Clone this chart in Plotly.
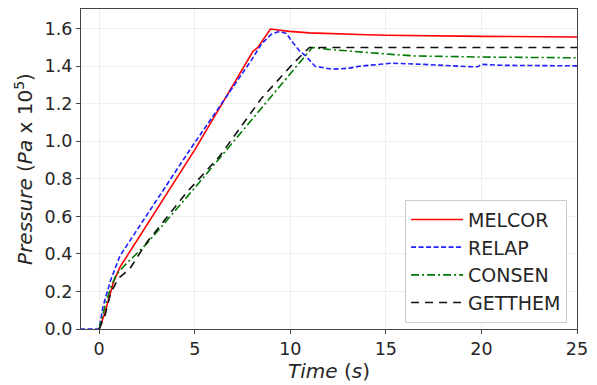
import plotly.graph_objects as go

# Pressure transients (Pa x 1e5) predicted by four codes
melcor_t = [0.0, 0.3, 0.75, 1.09, 5.0, 8.05, 8.3, 8.96, 9.95, 11.0, 13.6, 15.0, 20.0, 25.0]
melcor_p = [0.0, 0.085, 0.25, 0.33, 0.954, 1.48, 1.50, 1.598, 1.586, 1.578, 1.569, 1.565, 1.559, 1.556]

relap_t = [-1.0, 0.0, 0.2, 0.6, 1.09, 3.35, 4.74, 7.95, 8.5, 9.0, 9.43, 9.8,
           10.1, 10.5, 10.8, 11.3, 12.2, 13.1, 13.6, 15.3, 17.0, 19.5, 19.8, 20.0, 21.0, 25.0]
relap_p = [0.0, 0.0, 0.12, 0.26, 0.39, 0.74, 0.954, 1.43, 1.52, 1.57, 1.586, 1.575,
           1.53, 1.48, 1.455, 1.40, 1.384, 1.39, 1.40, 1.416, 1.41, 1.397, 1.397, 1.41, 1.405, 1.402]

consen_t = [0.0, 0.3, 0.6, 0.9, 1.44, 2.48, 4.9, 6.3, 8.4, 11.15, 12.0, 13.07, 15.3, 16.5, 20.0, 25.0]
consen_p = [0.0, 0.12, 0.22, 0.29, 0.35, 0.453, 0.74, 0.91, 1.166, 1.50, 1.49, 1.48, 1.463, 1.455, 1.449, 1.445]

getthem_t = [0.0, 0.3, 0.6, 1.0, 1.6, 2.48, 4.6, 6.3, 8.5, 10.2, 11.0, 25.0]
getthem_p = [0.0, 0.07, 0.19, 0.27, 0.32, 0.46, 0.73, 0.92, 1.23, 1.42, 1.50, 1.50]

x_ticks = [0, 5, 10, 15, 20, 25]
y_ticks = [0.0, 0.2, 0.4, 0.6, 0.8, 1.0, 1.2, 1.4, 1.6]

fig = go.Figure()
fig.add_trace(go.Scatter(x=melcor_t, y=melcor_p, mode="lines", name="MELCOR",
                         line=dict(color="#ff0000", width=1.6)))
fig.add_trace(go.Scatter(x=relap_t, y=relap_p, mode="lines", name="RELAP",
                         line=dict(color="#1f1fff", width=1.6, dash="5px,2.5px")))
fig.add_trace(go.Scatter(x=consen_t, y=consen_p, mode="lines", name="CONSEN",
                         line=dict(color="#007a00", width=1.6, dash="8px,3px,2px,3px")))
fig.add_trace(go.Scatter(x=getthem_t, y=getthem_p, mode="lines", name="GETTHEM",
                         line=dict(color="#111111", width=1.6, dash="8px,6px")))

font = "DejaVu Sans, sans-serif"
axis_common = dict(
    showline=True, mirror=True, linecolor="#444444", linewidth=1.3,
    showgrid=True, gridcolor="#eeeeee", gridwidth=1,
    ticks="outside", ticklen=4, tickcolor="#444444",
    tickfont=dict(family=font, size=17.5, color="#262626"),
    zeroline=False,
)

fig.update_layout(
    width=597, height=385,
    margin=dict(l=81, r=20, t=8, b=54),
    paper_bgcolor="white", plot_bgcolor="white",
    font=dict(family=font, color="#262626"),
    xaxis=dict(range=[-0.95, 25], tickvals=x_ticks,
               title=dict(text="<i>Time</i> (<i>s</i>)", font=dict(family=font, size=20), standoff=4),
               **axis_common),
    yaxis=dict(range=[0, 1.705], tickvals=y_ticks, tickformat=".1f",
               title=dict(text="<i>Pressure</i> (<i>Pa</i> x 10<sup>5</sup>)", font=dict(family=font, size=20), standoff=6),
               **axis_common),
    legend=dict(x=0.98, y=0.02, xanchor="right", yanchor="bottom",
                bgcolor="white", bordercolor="#cccccc", borderwidth=1,
                itemwidth=52,
                font=dict(family=font, size=19, color="#262626")),
    showlegend=True,
)

fig.write_html("out.html")
